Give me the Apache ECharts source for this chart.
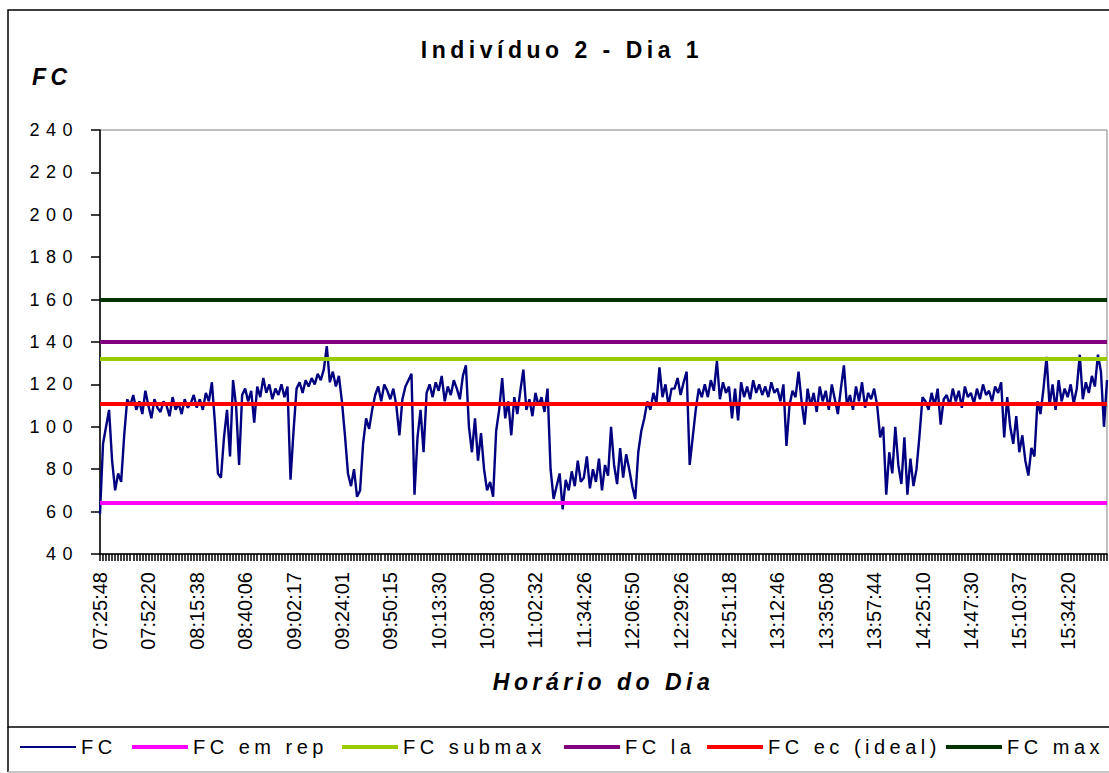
<!DOCTYPE html>
<html>
<head>
<meta charset="utf-8">
<script src="https://cdn.jsdelivr.net/npm/echarts@6/dist/echarts.min.js"></script>
<style>
html, body { margin: 0; padding: 0; background: #fff; }
#chart { width: 1109px; height: 773px; }
#chart text[style*="lsY"] { letter-spacing: 6.5px; }
#chart text[style*="lsT"] { letter-spacing: 4.5px; }
#chart text[style*="lsL"] { letter-spacing: 4.5px; }
</style>
</head>
<body>
<div id="chart"></div>
<script>
// ---- data ----
const tickLabels = [
  '07:25:48', '07:52:20', '08:15:38', '08:40:06', '09:02:17', '09:24:01', '09:50:15',
  '10:13:30', '10:38:00', '11:02:32', '11:34:26', '12:06:50', '12:29:26', '12:51:18',
  '13:12:46', '13:35:08', '13:57:44', '14:25:10', '14:47:30', '15:10:37', '15:34:20'
];
const samplesPerLabel = 16;
const fcValues = [
  59, 92, 100, 108, 84, 70, 78, 74, 96, 113,
  110, 115, 108, 112, 106, 117, 110, 104, 113, 109,
  107, 112, 110, 105, 114, 108, 111, 106, 113, 109,
  111, 115, 109, 113, 108, 116, 112, 121, 102, 78,
  76, 95, 108, 86, 122, 110, 82, 115, 118, 112,
  117, 102, 119, 114, 123, 116, 120, 113, 118, 115,
  120, 114, 119, 75, 98, 118, 121, 116, 122, 119,
  123, 120, 125, 122, 127, 138, 121, 126, 119, 124,
  112, 96, 78, 72, 80, 67, 70, 92, 104, 99,
  108, 115, 119, 112, 120, 117, 113, 118, 110, 96,
  113, 119, 122, 125, 68, 95, 108, 88, 116, 120,
  114, 121, 117, 124, 112, 119, 115, 122, 118, 113,
  124, 129, 100, 88, 104, 84, 97, 80, 70, 74,
  67, 98, 108, 123, 104, 112, 96, 114, 106, 117,
  127, 108, 113, 105, 116, 110, 114, 107, 118, 80,
  66, 72, 78, 61, 75, 70, 79, 72, 84, 74,
  76, 86, 71, 80, 74, 85, 70, 82, 77, 100,
  82, 73, 90, 76, 87, 80, 72, 66, 88, 98,
  104, 112, 108, 116, 111, 128, 114, 120, 110, 118,
  118, 123, 115, 121, 126, 82, 95, 108, 118, 114,
  120, 114, 122, 117, 131, 113, 121, 116, 119, 104,
  118, 103, 121, 114, 119, 113, 122, 116, 120, 115,
  119, 114, 121, 116, 118, 112, 120, 91, 110, 117,
  114, 126, 112, 101, 118, 110, 116, 107, 119, 112,
  117, 108, 120, 113, 106, 118, 129, 110, 115, 108,
  119, 112, 121, 109, 116, 113, 118, 110, 95, 100,
  68, 88, 78, 100, 82, 73, 95, 68, 85, 72,
  80, 96, 114, 112, 108, 116, 110, 118, 101, 113,
  115, 110, 118, 112, 117, 109, 119, 114, 116, 111,
  118, 113, 120, 115, 117, 112, 119, 116, 121, 95,
  114, 100, 92, 105, 88, 96, 84, 77, 90, 86,
  112, 106, 118, 133, 110, 120, 108, 122, 112, 118,
  114, 120, 111, 118, 134, 113, 121, 116, 124, 119,
  134, 126, 100, 122
];
const mainName = 'FC';
const refNames = ['FC em rep', 'FC submax', 'FC la', 'FC ec (ideal)', 'FC max'];
const refValues = [64, 132, 140, 111, 160];
const yMin = 40, yMax = 240, yStep = 20;
const titleText = 'Indivíduo 2 - Dia 1';
const yName = 'FC';
const xName = 'Horário do Dia';

// ---- styles ----
const mainColor = '#000080';
const refColors = ['#FF00FF', '#99CC00', '#800080', '#FF0000', '#003300'];
const legendLefts = [20, 132, 342, 564, 707, 946];

const categories = fcValues.map((v, i) =>
  (i % samplesPerLabel === 0 && tickLabels[i / samplesPerLabel]) ? tickLabels[i / samplesPerLabel] : '');

const chart = echarts.init(document.getElementById('chart'), null, { renderer: 'svg' });

const legendFont = { fontSize: 20, color: '#000', fontFamily: 'Liberation Sans, lsL' };
const allNames = [mainName].concat(refNames);
const legends = allNames.map((n, k) => ({
  data: [n],
  left: legendLefts[k],
  top: 737,
  padding: 0,
  icon: 'rect',
  itemWidth: 56,
  itemHeight: k === 0 ? 2 : 4,
  itemGap: 0,
  textStyle: legendFont,
  selectedMode: false
}));

const series = [{
  name: mainName,
  type: 'line',
  data: fcValues,
  symbol: 'none',
  showSymbol: false,
  lineStyle: { color: mainColor, width: 2.4 },
  itemStyle: { color: mainColor },
  z: 2,
  animation: false
}].concat(refNames.map((n, k) => ({
  name: n,
  type: 'line',
  data: [],
  symbol: 'none',
  lineStyle: { color: refColors[k], width: 4 },
  itemStyle: { color: refColors[k] },
  z: 3,
  animation: false,
  markLine: {
    silent: true,
    symbol: ['none', 'none'],
    animation: false,
    label: { show: false },
    lineStyle: { color: refColors[k], width: 4, type: 'solid' },
    emphasis: { disabled: true },
    data: [{ yAxis: refValues[k] }]
  }
})));

chart.setOption({
  animation: false,
  backgroundColor: '#fff',
  title: {
    text: titleText,
    left: 562,
    top: 38,
    padding: 0,
    textAlign: 'center',
    textStyle: { fontSize: 23, fontWeight: 'bold', color: '#000', fontFamily: 'Liberation Sans, lsT' }
  },
  legend: legends,
  grid: {
    left: 100, right: 2, top: 130, bottom: 219,
    show: true, borderColor: '#808080', borderWidth: 1, backgroundColor: 'transparent'
  },
  xAxis: {
    type: 'category',
    data: categories,
    boundaryGap: false,
    name: xName,
    nameLocation: 'middle',
    nameGap: 116,
    nameTextStyle: { fontSize: 23, fontWeight: 'bold', fontStyle: 'italic', color: '#000', fontFamily: 'Liberation Sans, lsT' },
    axisLine: { show: true, lineStyle: { color: '#000', width: 1.5 } },
    axisTick: { show: true, interval: 0, length: 7, lineStyle: { color: '#000', width: 1.5 } },
    axisLabel: { interval: samplesPerLabel - 1, rotate: 90, fontSize: 20, color: '#000', fontFamily: 'Liberation Sans', margin: 18 },
    splitLine: { show: false }
  },
  yAxis: {
    type: 'value',
    min: yMin, max: yMax, interval: yStep,
    axisLine: { show: true, lineStyle: { color: '#000', width: 1.5 } },
    axisTick: { show: true, length: 9, lineStyle: { color: '#000', width: 1.5 } },
    axisLabel: { fontSize: 18, color: '#000', fontFamily: 'Liberation Sans, lsY', margin: 21 },
    splitLine: { show: false }
  },
  graphic: [
    { type: 'text', x: 32, y: 77, silent: true,
      style: { text: yName, fontSize: 23, fontWeight: 'bold', fontStyle: 'italic', fill: '#000',
               fontFamily: 'Liberation Sans, lsT', textAlign: 'left', textVerticalAlign: 'middle' } },
    { type: 'rect', silent: true, z: -1,
      shape: { x: 8, y: 10, width: 1120, height: 717 },
      style: { fill: 'none', stroke: '#000', lineWidth: 1.5 } },
    { type: 'line', silent: true,
      shape: { x1: 8, y1: 727, x2: 8, y2: 772 },
      style: { stroke: '#000', lineWidth: 1.5 } },
    { type: 'line', silent: true,
      shape: { x1: 8, y1: 772, x2: 1109, y2: 772 },
      style: { stroke: '#b4b4b4', lineWidth: 1.5 } }
  ],
  series: series
});
</script>
</body>
</html>
